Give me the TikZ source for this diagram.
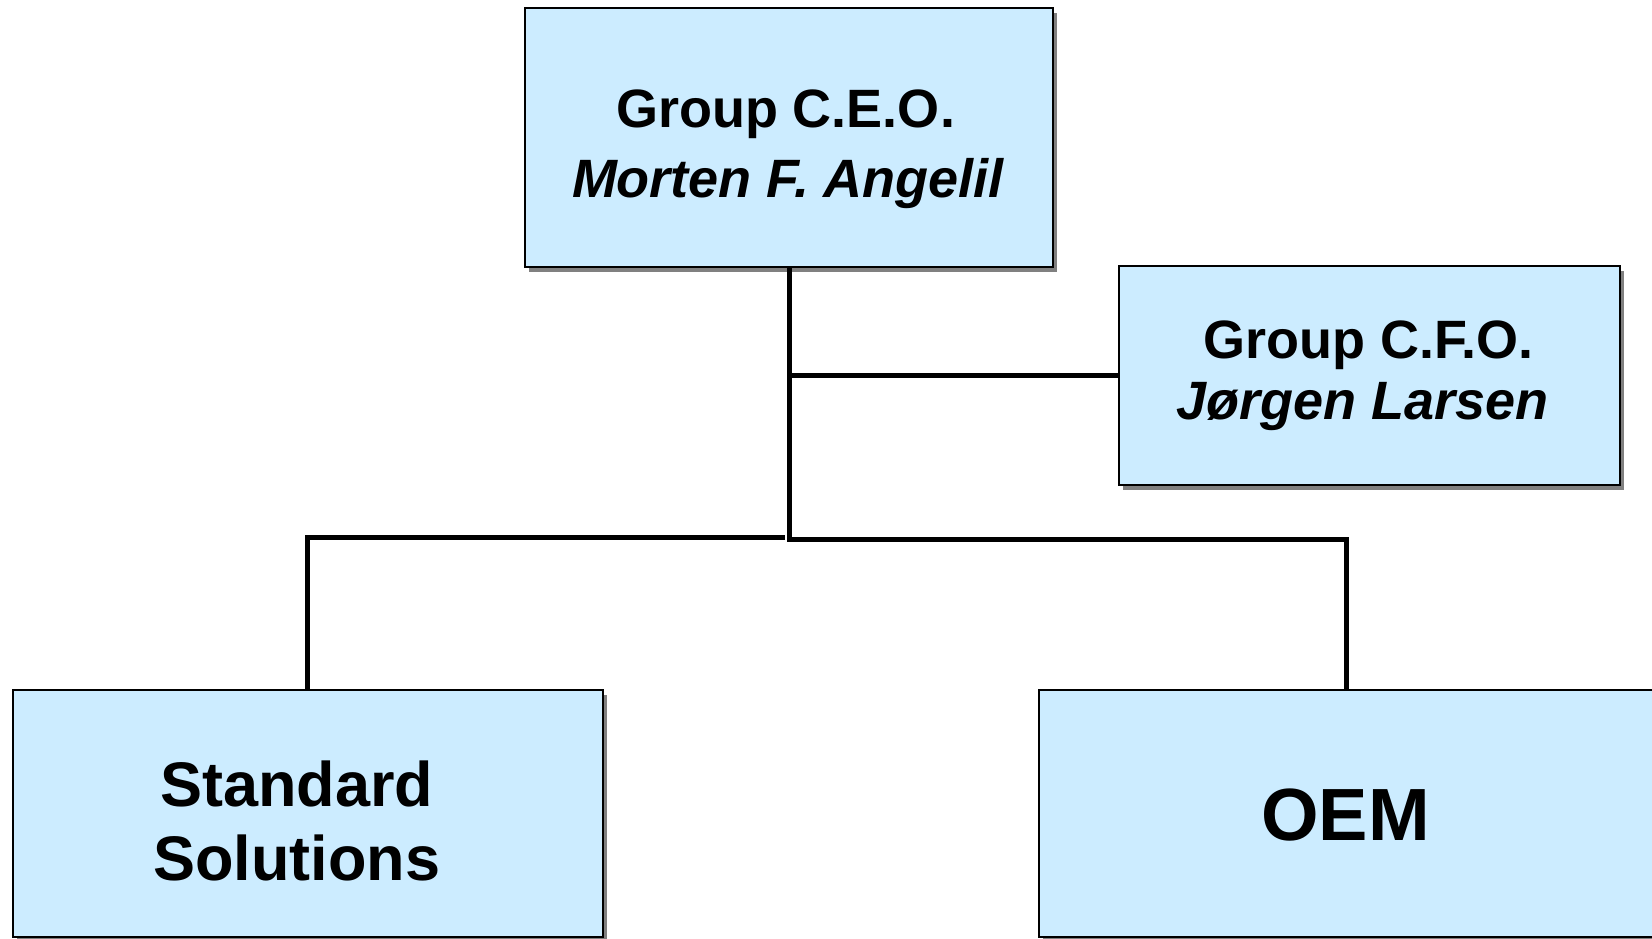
\documentclass[tikz,border=0pt]{standalone}
\usepackage{fontspec}
\setmainfont{Liberation Sans}
\usetikzlibrary{shadows}
\definecolor{boxblue}{RGB}{204,236,255}
\definecolor{shadowgray}{RGB}{128,128,128}
\tikzset{
  orgbox/.style={draw=black, line width=2pt, fill=boxblue, inner sep=0pt, rectangle,
    drop shadow={shadow xshift=4pt, shadow yshift=-5pt, fill=shadowgray, opacity=1}},
  conn/.style={line width=5pt},
  lbl/.style={anchor=base, inner sep=0pt},
  namefont/.style={font=\fontsize{54}{60}\selectfont\bfseries},
  persfont/.style={font=\fontsize{54}{60}\selectfont\bfseries\itshape},
  unitfont/.style={font=\fontsize{63}{70}\selectfont\bfseries},
  oemfont/.style={font=\fontsize{74}{80}\selectfont\bfseries}
}
\begin{document}
\begin{tikzpicture}[x=1pt,y=-1pt]
\useasboundingbox (0,0) rectangle (1652,939);
\clip (0,0) rectangle (1652,939);
\fill[white] (0,0) rectangle (1652,939);
% boxes
\node[orgbox, minimum width=527.8pt, minimum height=258.2pt] (ceo) at (789,137.5) {};
\node[orgbox, minimum width=501.5pt, minimum height=219pt] (cfo) at (1369.7,375) {};
\node[orgbox, minimum width=590pt, minimum height=247pt] (ss) at (307.5,813.5) {};
\node[orgbox, minimum width=615.4pt, minimum height=247pt] (oem) at (1346.5,813.5) {};
% labels
\node[lbl, namefont] (ceo1) at (785.5,127.5) {Group C.E.O.};
\node[lbl, persfont] (ceo2) at (788,197) {Morten F. Angelil};
\node[lbl, namefont] (cfo1) at (1368.6,358) {Group C.F.O.};
\node[lbl, persfont] (cfo2) at (1362.8,419) {Jørgen Larsen};
\node[lbl, unitfont] (ss1) at (296.6,806) {Standard};
\node[lbl, unitfont] (ss2) at (296.6,880) {Solutions};
\node[lbl, oemfont] (oem1) at (1345.5,840.8) {OEM};
% connectors
\coordinate (jr) at (789,539.8);
\coordinate (jl) at (785,537.5);
\draw[conn] (ceo.south) -- (jr) -| (oem.north);
\draw[conn] (ceo.south |- cfo.west) -- (cfo.west);
\draw[conn] (jl) -| (ss.north);
\end{tikzpicture}
\end{document}
